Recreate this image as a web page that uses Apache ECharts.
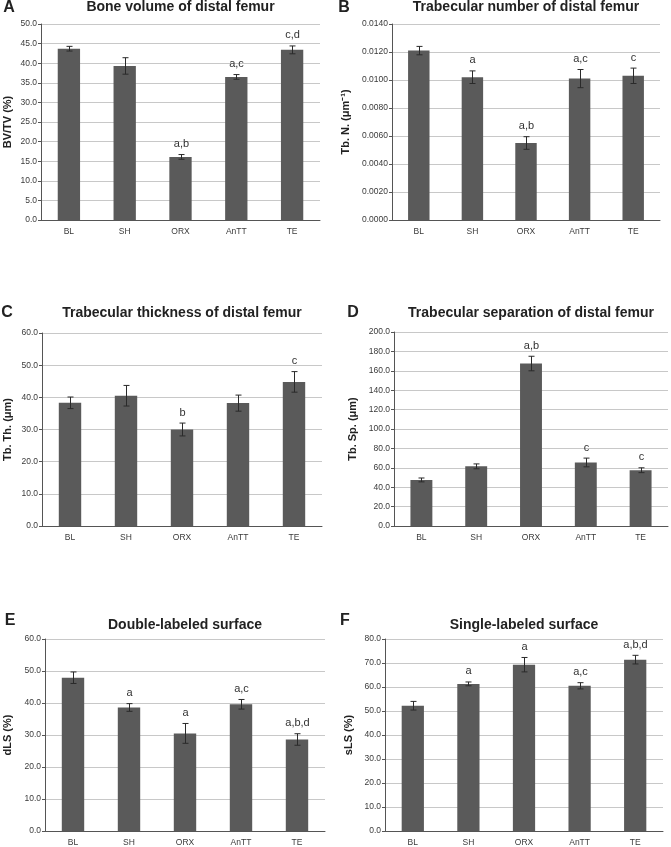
<!DOCTYPE html>
<html>
<head>
<meta charset="utf-8">
<script src="https://cdn.jsdelivr.net/npm/echarts@6/dist/echarts.min.js"></script>
<style>
html,body{margin:0;padding:0;background:#fff;}
#chart{width:671px;height:847px;}
</style>
</head>
<body>
<div id="chart"></div>
<script>
// ---- Data ----
const categories = ['BL', 'SH', 'ORX', 'AnTT', 'TE'];

const boneVolumeValues = [43.7, 39.3, 16.1, 36.5, 43.4];
const boneVolumeErrors = [0.6, 2.1, 0.6, 0.6, 1.0];
const boneVolumeSig = ['', '', 'a,b', 'a,c', 'c,d'];

const trabNumberValues = [0.0121, 0.0102, 0.0055, 0.0101, 0.0103];
const trabNumberErrors = [0.0003, 0.00045, 0.00045, 0.00065, 0.00055];
const trabNumberSig = ['', 'a', 'a,b', 'a,c', 'c'];

const trabThicknessValues = [38.3, 40.5, 30.0, 38.2, 44.8];
const trabThicknessErrors = [1.8, 3.2, 2.0, 2.5, 3.2];
const trabThicknessSig = ['', '', 'b', '', 'c'];

const trabSeparationValues = [47.5, 61.5, 167.5, 65.5, 57.5];
const trabSeparationErrors = [2.0, 2.5, 7.5, 4.5, 2.5];
const trabSeparationSig = ['', '', 'a,b', 'c', 'c'];

const dlsValues = [47.9, 38.6, 30.5, 39.6, 28.6];
const dlsErrors = [1.8, 1.2, 3.1, 1.5, 1.8];
const dlsSig = ['', 'a', 'a', 'a,c', 'a,b,d'];

const slsValues = [52.2, 61.3, 69.3, 60.5, 71.4];
const slsErrors = [1.8, 0.8, 3.0, 1.3, 1.8];
const slsSig = ['', 'a', 'a', 'a,c', 'a,b,d'];

const panelLetters = ['A', 'B', 'C', 'D', 'E', 'F'];
const panelTitles = ['Bone volume of distal femur', 'Trabecular number of distal femur',
  'Trabecular thickness of distal femur', 'Trabecular separation of distal femur',
  'Double-labeled surface', 'Single-labeled surface'];
const yAxisNames = ['BV/TV (%)', 'Tb. N. (\u03bcm\u207b\u00b9)', 'Tb. Th. (\u03bcm)', 'Tb. Sp. (\u03bcm)', 'dLS (%)', 'sLS (%)'];
const yAxisMax = [50, 0.014, 60, 200, 60, 80];
const yAxisInterval = [5, 0.002, 10, 20, 10, 10];
const yAxisDecimals = [1, 4, 1, 1, 1, 1];

const panelValues = [boneVolumeValues, trabNumberValues, trabThicknessValues, trabSeparationValues, dlsValues, slsValues];
const panelErrors = [boneVolumeErrors, trabNumberErrors, trabThicknessErrors, trabSeparationErrors, dlsErrors, slsErrors];
const panelSig = [boneVolumeSig, trabNumberSig, trabThicknessSig, trabSeparationSig, dlsSig, slsSig];

// ---- Layout ----
const grids = [
  {left: 41, top: 24, width: 279, height: 196},
  {left: 392, top: 24, width: 268, height: 196},
  {left: 42, top: 333, width: 280, height: 193},
  {left: 394, top: 332, width: 274, height: 194},
  {left: 45, top: 639, width: 280, height: 194},
  {left: 385, top: 639, width: 278, height: 194}
];
const nameGaps = [28, 41, 29, 36, 32, 31];
const titleY = [7, 7, 313, 313, 625, 625];
const letterPos = [[9, 8], [344, 8], [7, 313], [353, 313], [10, 621], [345, 621]];

const FONT = 'Liberation Sans, Arial, Helvetica, sans-serif';
const chart = echarts.init(document.getElementById('chart'), null, {renderer: 'canvas'});

const xAxes = [], yAxes = [], series = [], graphics = [];
grids.forEach((g, i) => {
  xAxes.push({
    type: 'category', gridIndex: i, data: categories,
    axisLine: {lineStyle: {color: '#555', width: 1}},
    axisTick: {show: false},
    axisLabel: {color: '#3a3a3a', fontSize: 8.5, fontFamily: FONT, margin: 7}
  });
  yAxes.push({
    type: 'value', gridIndex: i, min: 0, max: yAxisMax[i], interval: yAxisInterval[i],
    name: yAxisNames[i], nameLocation: 'middle', nameGap: nameGaps[i],
    nameTextStyle: {fontWeight: 'bold', fontSize: 11, color: '#222', fontFamily: FONT},
    axisLine: {show: true, lineStyle: {color: '#555', width: 1}},
    axisTick: {show: true, length: 3, lineStyle: {color: '#555'}},
    axisLabel: {color: '#3a3a3a', fontSize: 8.5, fontFamily: FONT, margin: 4,
      formatter: v => v.toFixed(yAxisDecimals[i])},
    splitLine: {show: true, lineStyle: {color: '#c8c8c8', width: 1}}
  });
  series.push({
    type: 'bar', xAxisIndex: i, yAxisIndex: i, data: panelValues[i],
    barWidth: '40%', itemStyle: {color: '#5a5a5a'}, silent: true, animation: false
  });
  const vals = panelValues[i], errs = panelErrors[i], sigs = panelSig[i];
  series.push({
    type: 'custom', xAxisIndex: i, yAxisIndex: i, z: 5, animation: false, silent: true,
    data: vals.map((v, k) => [k, v, errs[k]]),
    renderItem: function (params, api) {
      const k = api.value(0), v = api.value(1), e = api.value(2);
      const top = api.coord([k, v + e]);
      const bot = api.coord([k, v - e]);
      const x = Math.round(top[0]) + 0.5;
      const hw = 3;
      const style = {stroke: '#2a2a2a', lineWidth: 1};
      const children = [
        {type: 'line', shape: {x1: x, y1: top[1], x2: x, y2: bot[1]}, style},
        {type: 'line', shape: {x1: x - hw, y1: top[1], x2: x + hw, y2: top[1]}, style},
        {type: 'line', shape: {x1: x - hw, y1: bot[1], x2: x + hw, y2: bot[1]}, style}
      ];
      if (sigs[k]) {
        children.push({type: 'text', x: x, y: top[1] - 5,
          style: {text: sigs[k], align: 'center', verticalAlign: 'bottom',
            fontSize: 11, fontFamily: FONT, fill: '#333'}});
      }
      return {type: 'group', children};
    }
  });
  graphics.push({type: 'text', x: g.left + g.width / 2, y: titleY[i], silent: true,
    style: {text: panelTitles[i], align: 'center', verticalAlign: 'middle',
      fontSize: 14, fontWeight: 'bold', fontFamily: FONT, fill: '#222'}});
  graphics.push({type: 'text', x: letterPos[i][0], y: letterPos[i][1], silent: true,
    style: {text: panelLetters[i], align: 'center', verticalAlign: 'middle',
      fontSize: 16, fontWeight: 'bold', fontFamily: FONT, fill: '#222'}});
});

chart.setOption({
  animation: false,
  backgroundColor: '#fff',
  grid: grids.map(g => Object.assign({containLabel: false}, g)),
  xAxis: xAxes,
  yAxis: yAxes,
  series: series,
  graphic: graphics
});
</script>
</body>
</html>
